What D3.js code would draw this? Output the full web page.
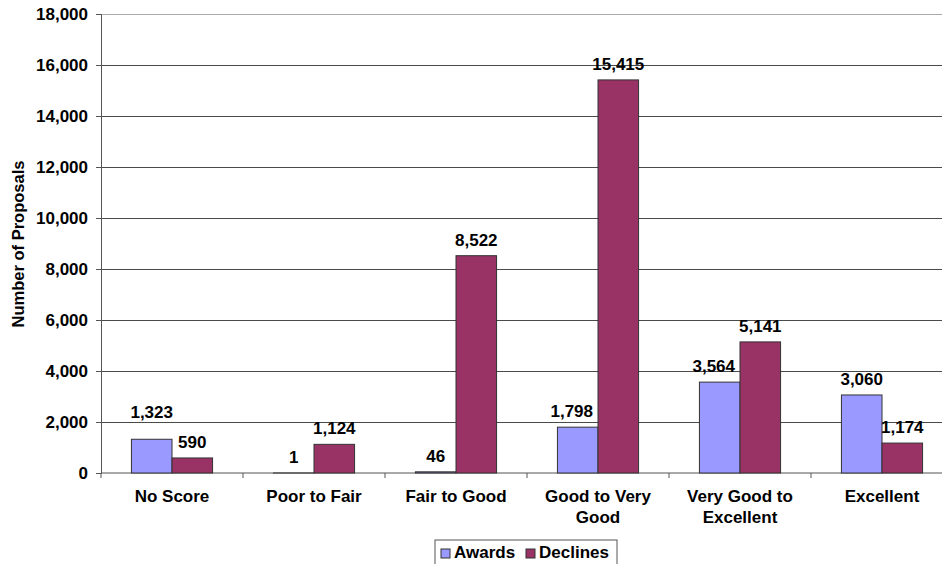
<!DOCTYPE html>
<html><head><meta charset="utf-8">
<script src="https://cdn.jsdelivr.net/npm/d3@7/dist/d3.min.js"></script>
<style>body{margin:0;background:#fff}svg{display:block}text{font-family:"Liberation Sans",Arial,sans-serif;font-weight:bold;fill:#000}</style>
</head><body><svg id="c" width="942" height="564"></svg>
<script>
const categories = [["No Score"],["Poor to Fair"],["Fair to Good"],["Good to Very","Good"],["Very Good to","Excellent"],["Excellent"]];
const awards = [1323, 1, 46, 1798, 3564, 3060];
const declines = [590, 1124, 8522, 15415, 5141, 1174];
const seriesNames = ["Awards", "Declines"];
const colors = ["#9999FF", "#993366"];
const yTicks = [0,2000,4000,6000,8000,10000,12000,14000,16000,18000];

const svg = d3.select("#c");
const L = 101, R = 953, T = 14, B = 473;
const x = d3.scaleBand().domain(d3.range(categories.length)).range([L, R]).paddingInner(0).paddingOuter(0);
const y = d3.scaleLinear().domain([0, 18000]).range([B, T]);
const fmt = d3.format(",");
const FS = "17px";

// gridlines
svg.append("g").selectAll("line").data(yTicks.filter(d=>d>0)).join("line")
  .attr("x1", L).attr("x2", R).attr("y1", d=>y(d)).attr("y2", d=>y(d))
  .attr("stroke", d=>d===18000?"#aaa":"#4a4a4a").attr("stroke-width", 1).attr("shape-rendering","crispEdges");

// y axis
const ya = svg.append("g").attr("transform", `translate(${L},0)`)
  .call(d3.axisLeft(y).tickValues(yTicks).tickFormat(fmt).tickSize(5).tickPadding(8));
ya.select(".domain").attr("stroke","#555");
ya.selectAll(".tick line").attr("stroke","#555");
ya.selectAll("text").style("font-size",FS).style("font-family","'Liberation Sans',Arial,sans-serif").style("font-weight","bold").attr("fill","#000");

// x axis
const xa = svg.append("g").attr("transform", `translate(0,${B})`);
xa.append("line").attr("x1",L).attr("x2",R).attr("stroke","#555");
xa.selectAll("line.t").data(d3.range(categories.length+1)).join("line").attr("class","t")
  .attr("x1", i=>L + i*x.bandwidth()).attr("x2", i=>L + i*x.bandwidth()).attr("y1",0).attr("y2",5).attr("stroke","#555");
const cl = xa.selectAll("text.c").data(categories).join("text").attr("class","c")
  .attr("text-anchor","middle").style("font-size",FS)
  .attr("transform",(d,i)=>`translate(${x(i)+x.bandwidth()/2},29)`);
cl.selectAll("tspan").data(d=>d).join("tspan").attr("x",0).attr("dy",(d,i)=>i===0?0:21).text(d=>d);

// bars
const bw = x.bandwidth()/3.5;
const sub = d3.scaleBand().domain([0,1]).range([0, 2*bw]);
const barX = (i,s) => x(i) + (x.bandwidth()-2*bw)/2 + sub(s);
const series = [awards, declines];
series.forEach((vals, s) => {
  svg.append("g").selectAll("rect").data(vals).join("rect")
    .attr("x", (d,i)=>barX(i,s))
    .attr("width", sub.bandwidth())
    .attr("y", d=>y(d)).attr("height", d=>B - y(d))
    .attr("fill", colors[s]).attr("stroke","#333").attr("stroke-width",1);
});

// labels with simple collision avoidance (awards label nudged away from declines bar/label)
const lbl = svg.append("g");
categories.forEach((c,i)=>{
  const dCx = barX(i,1) + sub.bandwidth()/2, dBase = y(declines[i]) - 10;
  const dt = lbl.append("text").attr("x", dCx).attr("y", dBase).attr("text-anchor","middle").style("font-size",FS).text(fmt(declines[i]));
  const dw = dt.node().getComputedTextLength();
  let aCx = barX(i,0) + sub.bandwidth()/2, aBase = y(awards[i]) - 10;
  const at = lbl.append("text").attr("text-anchor","middle").style("font-size",FS).text(fmt(awards[i]));
  const aw = at.node().getComputedTextLength();
  const dLeft = barX(i,1);
  if (aCx + aw/2 > dLeft - 3) {
    if (y(declines[i]) < aBase) {
      aCx -= (aCx + aw/2) - (dLeft - 5);
    } else if (aCx + aw/2 > dCx - dw/2 - 8 && Math.abs(aBase - dBase) < 20) {
      aBase = Math.min(aBase, dBase - 30);
    }
  }
  at.attr("x", aCx).attr("y", aBase);
});

// y title
svg.append("text").attr("transform","translate(24,244) rotate(-90)").attr("text-anchor","middle")
  .style("font-size","16.5px").text("Number of Proposals");

// legend
const lg = svg.append("g").attr("transform","translate(435,540)");
lg.append("rect").attr("x",0).attr("y",0).attr("width",182).attr("height",30).attr("fill","#fff").attr("stroke","#555");
seriesNames.forEach((n,i)=>{
  const ox = i===0 ? 6 : 91;
  lg.append("rect").attr("x",ox).attr("y",9).attr("width",9).attr("height",9).attr("fill",colors[i]).attr("stroke","#333");
  lg.append("text").attr("x",ox+13).attr("y",18).style("font-size",FS).text(n);
});
</script></body></html>
